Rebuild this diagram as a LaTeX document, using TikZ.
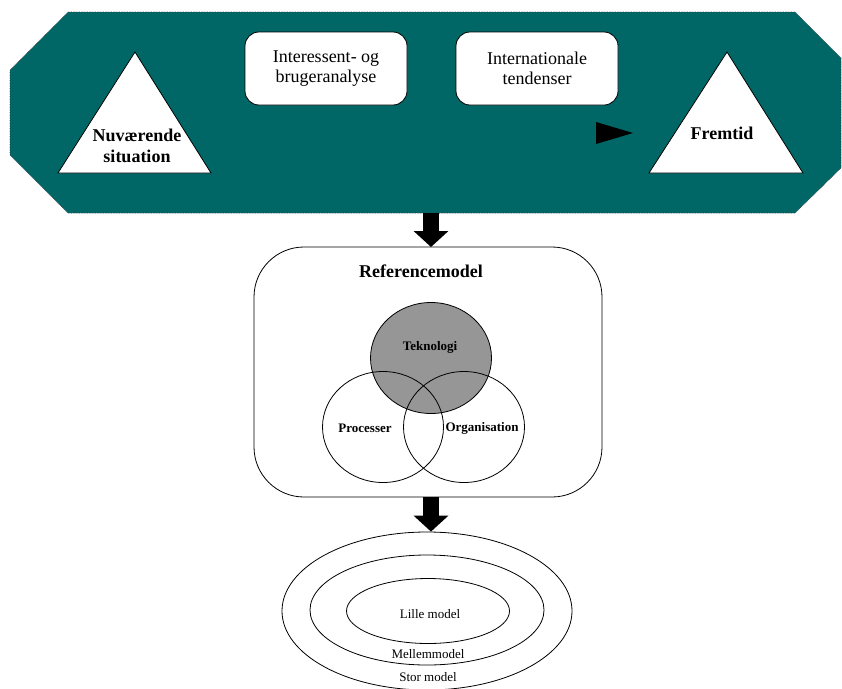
\documentclass[tikz,border=0pt]{standalone}
\usepackage{fontspec}
\setmainfont{Liberation Serif}
\usetikzlibrary{shapes.geometric,arrows.meta}
\definecolor{bannerteal}{RGB}{0,102,102}
\definecolor{techgray}{RGB}{150,150,150}
\tikzset{
	infobox/.style={draw,fill=white,rounded corners=14pt,line width=0.8pt,minimum width=162pt,minimum height=73pt,align=center,font=\fontsize{18}{20}\selectfont},
	stage/.style={draw,fill=white,line width=0.8pt,line join=miter},
	boldlabel/.style={align=center,font=\fontsize{18}{21}\selectfont\bfseries},
	venn/.style={ellipse,draw,line width=0.8pt,minimum width=121pt,minimum height=111pt,inner sep=0pt},
	ring/.style={ellipse,draw,line width=0.8pt,inner sep=0pt},
	smalllabel/.style={font=\fontsize{13}{14}\selectfont},
	bigarrow/.style={line width=16pt,-{Triangle[length=16pt,width=34pt]}}
}
\begin{document}
\begin{tikzpicture}[x=1pt,y=-1pt]
	\useasboundingbox (0,0) rectangle (842,688);
	%		banner
	\fill[bannerteal] (68,12)--(795,12)--(841,58)--(841,168)--(795,213)--(68,213)--(10,155)--(10,70)--cycle;
	\draw[densely dotted,draw=black!75,line width=0.6pt] (68,12)--(795,12)--(841,58)--(841,168)--(795,213)--(68,213)--(10,155)--(10,70)--cycle;
	\node[infobox] (interest) at (326,68.5) {Interessent- og\\brugeranalyse};
	\node[infobox] (intl) at (537,68.5) {Internationale\\tendenser};
	\draw[stage] (135,52)--(211,173)--(58,173)--cycle;
	\node[boldlabel] (now) at (137,146) {Nuværende\\situation};
	\draw[stage] (727,52)--(803,173)--(649,173)--cycle;
	\node[boldlabel] (future) at (722,133) {Fremtid};
	\fill (596,122)--(633,133)--(596,144)--cycle;
	%		reference model
	\node[draw,line width=0.8pt,rounded corners=50pt,minimum width=348pt,minimum height=250pt] (refmodel) at (428,372) {};
	\coordinate (bannerbottom) at (431,213);
	\coordinate (refmodeltop) at (431,247);
	\coordinate (refmodelbottom) at (431,497);
	\node[boldlabel] (reftitle) at (421,271) {Referencemodel};
	\node[venn,fill=techgray] (tech) at (431,358) {};
	\node[venn] (proc) at (383,427) {};
	\node[venn] (org) at (464,427) {};
	\node[smalllabel,font=\fontsize{13}{14}\selectfont\bfseries] at (430,347) {Teknologi};
	\node[smalllabel,font=\fontsize{13}{14}\selectfont\bfseries] at (365,428) {Processer};
	\node[smalllabel,font=\fontsize{13}{14}\selectfont\bfseries] at (482,428) {Organisation};
	%		models
	\node[ring,minimum width=290pt,minimum height=158pt] (bigmodel) at (427,611) {};
	\node[ring,minimum width=234pt,minimum height=110pt] (midmodel) at (427,610) {};
	\node[ring,minimum width=163pt,minimum height=65pt] (smallmodel) at (428,611) {};
	\node[smalllabel] at (430,614) {Lille model};
	\node[smalllabel] at (428,654) {Mellemmodel};
	\node[smalllabel] at (428,677) {Stor model};
	\draw[bigarrow] (bannerbottom) -- (refmodeltop);
	\draw[bigarrow] (refmodelbottom) -- (refmodelbottom |- bigmodel.north);
\end{tikzpicture}
\end{document}
